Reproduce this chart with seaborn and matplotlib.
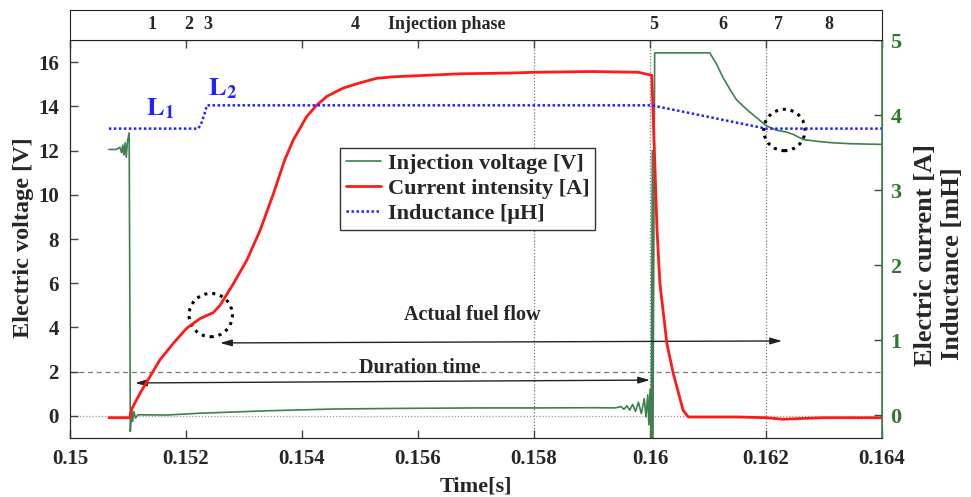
import numpy as np
import pandas as pd
import seaborn as sns
import matplotlib.pyplot as plt
from matplotlib.patches import Ellipse
from matplotlib.lines import Line2D

# ── Data ───────────────────────────────────────────────────────────────────
# injection voltage (left axis, V)
volt_t = [0.15067, 0.15080, 0.15086, 0.15089, 0.15091, 0.15093, 0.15095, 0.15097,
          0.15099, 0.15102, 0.15104, 0.15106, 0.15108, 0.15110, 0.15113, 0.15117,
          0.15167, 0.15224, 0.15339, 0.15453, 0.15569, 0.15700, 0.15800, 0.15900,
          0.15940, 0.15950, 0.15955, 0.15960, 0.15965, 0.15970, 0.15975, 0.15980,
          0.15985, 0.15990, 0.15993, 0.15996, 0.15998, 0.16000, 0.16002, 0.16004,
          0.16005, 0.16008, 0.16103, 0.16115, 0.16126, 0.16138, 0.16149, 0.16167,
          0.16184, 0.16200, 0.16218, 0.16236, 0.16247, 0.16264, 0.16287, 0.16316,
          0.16345, 0.16398]
volt_v = [12.05, 12.05, 12.15, 11.9, 12.25, 11.8, 12.35, 11.7,
          12.4, 12.8, -0.7, 0.35, -0.25, 0.2, -0.1, 0.05,
          0.04, 0.12, 0.23, 0.31, 0.34, 0.36, 0.36, 0.37,
          0.36, 0.42, 0.30, 0.46, 0.26, 0.52, 0.20, 0.62,
          0.10, 0.78, -0.05, 0.95, -0.4, 1.2, -1.5, 12.0,
          -1.3, 16.42, 16.42, 15.89, 15.29, 14.76, 14.30, 13.85,
          13.48, 13.13, 12.92, 12.83, 12.73, 12.50, 12.42, 12.35,
          12.31, 12.28]

# current intensity (right axis, A)
curr_t = [0.15067, 0.15103, 0.15106, 0.15121, 0.15138, 0.15155, 0.15178, 0.15201,
          0.15224, 0.15247, 0.15259, 0.15282, 0.15305, 0.15328, 0.15351, 0.15370,
          0.15385, 0.15408, 0.15425, 0.15443, 0.15471, 0.15500, 0.15529, 0.15557,
          0.15615, 0.15672, 0.15759, 0.15800, 0.15900, 0.15980, 0.16003, 0.16009,
          0.16012, 0.16017, 0.16029, 0.16040, 0.16057, 0.16066, 0.16100, 0.16150,
          0.16200, 0.16230, 0.16260, 0.16300, 0.16350, 0.16400]
curr_a = [-0.03, -0.03, 0.08, 0.30, 0.52, 0.74, 0.96, 1.16,
          1.29, 1.37, 1.47, 1.76, 2.07, 2.47, 2.96, 3.40,
          3.67, 3.98, 4.13, 4.25, 4.36, 4.43, 4.49, 4.51,
          4.53, 4.55, 4.56, 4.57, 4.58, 4.57, 4.53, 3.18,
          2.47, 1.76, 0.96, 0.56, 0.07, -0.02, -0.02, -0.02,
          -0.03, -0.05, -0.04, -0.03, -0.03, -0.03]

# inductance (right axis, mH)
ind_t = [0.15067, 0.15221, 0.15226, 0.15232, 0.15236, 0.16003, 0.16200, 0.16400]
ind_l = [3.82, 3.82, 3.88, 4.02, 4.13, 4.13, 3.82, 3.82]

x_ticks = [0.150, 0.152, 0.154, 0.156, 0.158, 0.160, 0.162, 0.164]
x_tick_labels = ["0.15", "0.152", "0.154", "0.156", "0.158", "0.16", "0.162", "0.164"]
v_ticks = [0, 2, 4, 6, 8, 10, 12, 14, 16]
r_ticks = [0, 1, 2, 3, 4, 5]

phase_labels = ["1", "2", "3", "4", "Injection phase", "5", "6", "7", "8"]
phase_pos = [0.15141, 0.15205, 0.15238, 0.15491, 0.15650, 0.16007, 0.16126, 0.16222, 0.16309]

GREEN = "#3f7f50"
TICK_GREEN = "#2b7a2b"
RED = "#ff1a1a"
BLUE = "#2222ff"

sns.set_style("ticks")
plt.rcParams["font.family"] = ["Liberation Serif", "DejaVu Serif"]
plt.rcParams["font.weight"] = "bold"
plt.rcParams["mathtext.fontset"] = "stix"

fig = plt.figure(figsize=(9.71, 4.97), dpi=100)
ax = fig.add_axes([0.0721, 0.1187, 0.8363, 0.8008])
ax2 = ax.twinx()
top = fig.add_axes([0.0721, 0.9195, 0.8363, 0.0604])

volt = pd.DataFrame({"t": volt_t, "v": volt_v})
curr = pd.DataFrame({"t": curr_t, "a": curr_a})
ind = pd.DataFrame({"t": ind_t, "l": ind_l})

# reference lines
for xv in [0.158, 0.160, 0.162]:
    ax.axvline(xv, color="#777777", ls=(0, (1, 1.5)), lw=0.9, zorder=0)
ax.axhline(0, color="#999999", ls=(0, (1, 1.5)), lw=0.9, zorder=0)
ax.axhline(2, color="#777777", ls=(0, (4, 3)), lw=0.9, zorder=0)

sns.lineplot(data=volt, x="t", y="v", ax=ax, color=GREEN, lw=1.2,
             sort=False, estimator=None, legend=False)
h_volt = ax.lines[-1]
sns.lineplot(data=curr, x="t", y="a", ax=ax2, color=RED, lw=2.0,
             sort=False, estimator=None, legend=False)
h_curr = ax2.lines[-1]
sns.lineplot(data=ind, x="t", y="l", ax=ax2, color=BLUE, lw=1.8,
             sort=False, estimator=None, legend=False)
h_ind = ax2.lines[-1]
h_ind.set_linestyle((0, (1, 1)))

ax.set_xlim(0.15, 0.164)
ax.set_ylim(-1, 17)
ax2.set_ylim(-0.3, 5)

ax.set_xticks(x_ticks)
ax.set_xticklabels(x_tick_labels, fontsize=15, fontweight="bold")
ax.set_yticks(v_ticks)
ax.set_yticklabels([str(v) for v in v_ticks], fontsize=15, fontweight="bold")
ax2.set_yticks(r_ticks)
ax2.set_yticklabels([str(v) for v in r_ticks], fontsize=16, fontweight="bold",
                    color=TICK_GREEN)
ax.tick_params(axis="both", direction="in", length=6, width=1, color="#444444", pad=8)
ax.tick_params(axis="x", top=True)
ax2.tick_params(axis="y", direction="in", length=6, width=1, color="#444444", pad=6)
ax.set_xlabel("")
ax.set_ylabel("")
ax2.set_ylabel("")
for s in ["left", "bottom", "top"]:
    ax.spines[s].set_color("#444444")
ax.spines["right"].set_color(GREEN)
ax2.spines["right"].set_color(GREEN)
ax2.spines["right"].set_linewidth(1.2)

# annotations
arrow = dict(arrowstyle="<|-|>,head_length=0.7,head_width=0.2", color="#222222", lw=1.0,
             shrinkA=0, shrinkB=0)
ax.annotate("", xy=(0.162276, 3.39), xytext=(0.152586, 3.30), arrowprops=arrow)
ax.annotate("", xy=(0.16, 1.62), xytext=(0.151121, 1.49), arrowprops=arrow)
ax.text(0.15693, 4.56, "Actual fuel flow", ha="center", va="center", fontsize=14.5)
ax.text(0.15603, 2.17, "Duration time", ha="center", va="center", fontsize=14.5)

ax.add_patch(Ellipse((0.152426, 4.56), 0.000748, 1.96, fill=False, ec="black",
                     ls=(0, (1, 1.6)), lw=2.2, zorder=5))
ax.add_patch(Ellipse((0.162316, 12.93), 0.000714, 1.87, fill=False, ec="black",
                     ls=(0, (1, 1.6)), lw=2.2, zorder=5))

ax.text(0.15155, 13.9, r"$\mathbf{L}_{\mathbf{1}}$", color=BLUE, fontsize=19,
        ha="center", va="center")
ax.text(0.15262, 14.8, r"$\mathbf{L}_{\mathbf{2}}$", color=BLUE, fontsize=19,
        ha="center", va="center")

leg = ax2.legend([h_volt, h_curr, h_ind],
                 ["Injection voltage [V]", "Current intensity [A]", "Inductance [\u03bcH]"],
                 loc="upper left", bbox_to_anchor=(0.3325, 0.7286), borderaxespad=0,
                 fontsize=16, frameon=True, fancybox=False, framealpha=1,
                 edgecolor="#333333", handlelength=1.6, handletextpad=0.3,
                 labelspacing=0.2, borderpad=0.25)
leg.get_frame().set_linewidth(1.0)

# phase strip
top.set_xlim(0.15, 0.164)
top.set_ylim(0, 1)
top.set_xticks([])
top.set_yticks([])
for lab, xp in zip(phase_labels, phase_pos):
    top.text(xp, 0.5, lab, ha="center", va="center", fontsize=13)
for s in top.spines.values():
    s.set_color("#222222")

fig.text(23 / 971, 1 - 238 / 497, "Electric voltage [V]", rotation=90,
         ha="center", va="center", fontsize=17.5)
fig.text(925 / 971, 1 - 255 / 497, "Electric current [A]", rotation=90,
         ha="center", va="center", fontsize=19)
fig.text(952 / 971, 1 - 264 / 497, "Inductance [mH]", rotation=90,
         ha="center", va="center", fontsize=19)
fig.text(476 / 971, 1 - 487 / 497, "Time[s]", ha="center", va="center", fontsize=16)

fig.savefig("out.png", dpi=100)
